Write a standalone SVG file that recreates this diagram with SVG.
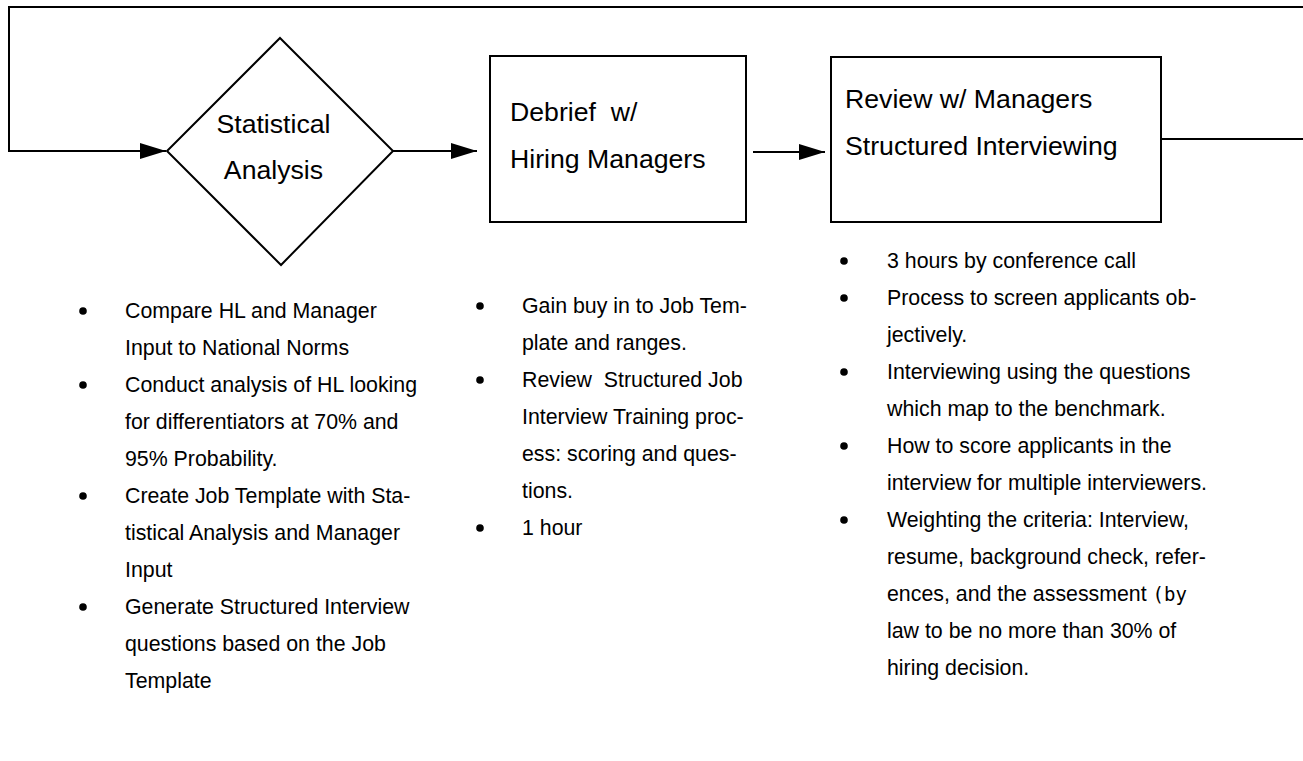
<svg xmlns="http://www.w3.org/2000/svg" width="1303" height="761" viewBox="0 0 1303 761">
<style>
.shape{fill:#fff;stroke:#000;stroke-width:2}
.conn{fill:none;stroke:#000;stroke-width:2}
.title{font-family:"Liberation Sans",Arial,sans-serif;font-size:26.67px;fill:#000}
.body{font-family:"Liberation Sans",Arial,sans-serif;font-size:21.33px;fill:#000}
.dot{fill:#000}
</style>
<defs>
<marker id="arr" markerUnits="userSpaceOnUse" markerWidth="27" markerHeight="16" refX="26" refY="8" orient="auto">
<path d="M0,0 L26,8 L0,16 z" fill="#000"/>
</marker>
</defs>
<rect width="1303" height="761" fill="#fff"/>
<g id="connectors">
<path class="conn" d="M1303,7 H9 V151 H166" marker-end="url(#arr)"/>
<path class="conn" d="M393,151 H477" marker-end="url(#arr)"/>
<path class="conn" d="M753,152 H825" marker-end="url(#arr)"/>
<path class="conn" d="M1161,139 H1303"/>
</g>
<g id="statistical-analysis">
<polygon class="shape" points="280,38 393,151 281,265 167,151"/>
<text class="title" x="273.5" y="133" text-anchor="middle">Statistical</text>
<text class="title" x="273.5" y="179" text-anchor="middle">Analysis</text>
</g>
<g id="debrief">
<rect class="shape" x="490" y="56" width="256" height="166"/>
<text class="title" x="510" y="121" xml:space="preserve">Debrief  w/</text>
<text class="title" x="510" y="168">Hiring Managers</text>
</g>
<g id="review">
<rect class="shape" x="831" y="57" width="330" height="165"/>
<text class="title" x="845" y="108">Review w/ Managers</text>
<text class="title" x="845" y="155">Structured Interviewing</text>
</g>
<g id="notes-statistical">
<circle class="dot" cx="83" cy="311" r="3.8"/>
<circle class="dot" cx="83" cy="385" r="3.8"/>
<circle class="dot" cx="83" cy="496" r="3.8"/>
<circle class="dot" cx="83" cy="607" r="3.8"/>
<text class="body" x="125" y="318">Compare HL and Manager</text>
<text class="body" x="125" y="355">Input to National Norms</text>
<text class="body" x="125" y="392">Conduct analysis of HL looking</text>
<text class="body" x="125" y="429">for differentiators at 70% and</text>
<text class="body" x="125" y="466">95% Probability.</text>
<text class="body" x="125" y="503">Create Job Template with Sta-</text>
<text class="body" x="125" y="540">tistical Analysis and Manager</text>
<text class="body" x="125" y="577">Input</text>
<text class="body" x="125" y="614">Generate Structured Interview</text>
<text class="body" x="125" y="651">questions based on the Job</text>
<text class="body" x="125" y="688">Template</text>
</g>
<g id="notes-debrief">
<circle class="dot" cx="480" cy="306" r="3.8"/>
<circle class="dot" cx="480" cy="380" r="3.8"/>
<circle class="dot" cx="480" cy="528" r="3.8"/>
<text class="body" x="522" y="313">Gain buy in to Job Tem-</text>
<text class="body" x="522" y="350">plate and ranges.</text>
<text class="body" x="522" y="387" xml:space="preserve">Review  Structured Job</text>
<text class="body" x="522" y="424">Interview Training proc-</text>
<text class="body" x="522" y="461">ess: scoring and ques-</text>
<text class="body" x="522" y="498">tions.</text>
<text class="body" x="522" y="535">1 hour</text>
</g>
<g id="notes-review">
<circle class="dot" cx="844" cy="261" r="3.8"/>
<circle class="dot" cx="844" cy="298" r="3.8"/>
<circle class="dot" cx="844" cy="372" r="3.8"/>
<circle class="dot" cx="844" cy="446" r="3.8"/>
<circle class="dot" cx="844" cy="520" r="3.8"/>
<text class="body" x="887" y="268">3 hours by conference call</text>
<text class="body" x="887" y="305">Process to screen applicants ob-</text>
<text class="body" x="887" y="342">jectively.</text>
<text class="body" x="887" y="379">Interviewing using the questions</text>
<text class="body" x="887" y="416">which map to the benchmark.</text>
<text class="body" x="887" y="453">How to score applicants in the</text>
<text class="body" x="887" y="490">interview for multiple interviewers.</text>
<text class="body" x="887" y="527">Weighting the criteria: Interview,</text>
<text class="body" x="887" y="564">resume, background check, refer-</text>
<text class="body" x="887" y="601" xml:space="preserve">ences, and the assessment <tspan font-family="DejaVu Sans Mono, monospace" font-size="19">(by</tspan></text>
<text class="body" x="887" y="638">law to be no more than 30% of</text>
<text class="body" x="887" y="675">hiring decision.</text>
</g>
</svg>
